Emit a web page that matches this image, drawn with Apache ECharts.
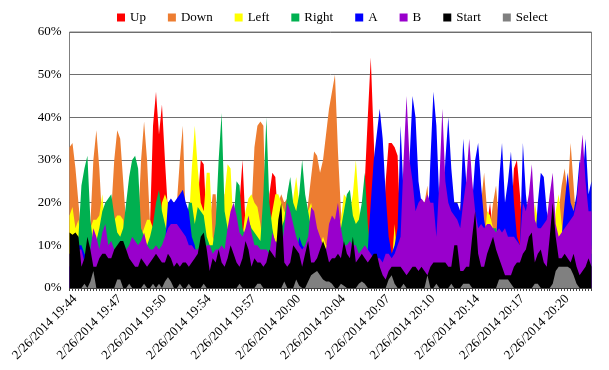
<!DOCTYPE html>
<html><head><meta charset="utf-8">
<script src="https://cdn.jsdelivr.net/npm/echarts@6/dist/echarts.min.js"></script>
<style>html,body{margin:0;padding:0;background:#fff}#c{width:609px;height:370px}</style>
</head><body><div id="c"></div>
<script>
const tickLabels = ['2/26/2014 19:44','2/26/2014 19:47','2/26/2014 19:50','2/26/2014 19:54','2/26/2014 19:57','2/26/2014 20:00','2/26/2014 20:04','2/26/2014 20:07','2/26/2014 20:10','2/26/2014 20:14','2/26/2014 20:17','2/26/2014 20:20'];
const labelEvery = 15;
const up = [5,5,4,3,3,4,5,5,6,5, 4,4,3,4,4,5,5,5,4,4, 3,4,4,4,4,5,6,15,38,46, 36,43,30,18,10,8,8,7,6,6, 5,5,6,20,30,29,15,10,8,6, 6,5,5,5,6,6,10,20,30,15, 10,8,7,7,6,6,6,22,27,26, 15,10,8,7,6,6,6,5,5,5, 5,5,6,6,6,6,6,6,6,7, 8,8,9,9,8,8,7,8,12,25, 40,54,35,15,10,12,25,34,34,33, 31,12,10,8,8,7,7,7,6,6, 6,6,6,5,5,5,5,5,5,5, 8,20,12,8,7,7,6,6,6,8, 15,20,12,8,7,7,7,8,15,28, 30,22,12,16,10,8,8,7,7,7, 7,6,6,6,6,6,6,6,6,6, 6,6,6,6,6,6];
const down = [33,34,28,20,12,10,8,15,30,37, 28,15,10,12,18,30,37,35,25,15, 10,9,10,15,30,39,30,15,12,10, 10,11,12,15,18,20,20,30,38,14, 10,9,8,10,10,11,12,15,22,22, 12,10,22,23,20,14,12,10,10,12, 14,18,33,38,39,38,12,10,10,21, 20,22,20,21,16,12,10,10,12,13, 20,26,32,31,27,30,36,42,46,50, 32,18,12,12,10,10,9,8,8,8, 7,7,6,6,5,5,5,5,5,5, 5,5,5,5,4,4,4,5,10,20, 24,12,8,7,6,6,6,6,6,6, 8,8,7,7,7,7,7,10,20,27, 18,14,20,24,15,10,8,8,8,8, 8,8,8,8,8,8,8,8,8,8, 8,8,8,12,18,24,28,22,34,24, 14,10,10,10,10,10];
const left = [17,19,14,16,10,14,12,14,16,16, 17,22,14,13,12,16,17,17,16,10, 8,8,9,10,12,14,16,16,14,12, 14,20,22,20,12,10,9,10,10,12, 15,28,38,28,20,18,27,27,12,10, 10,12,22,29,28,14,12,10,12,18, 21,22,20,19,15,10,12,14,18,22, 22,20,18,17,15,21,26,20,15,17, 18,20,16,12,10,12,10,10,10,12, 14,16,22,21,18,22,30,20,12,10, 10,10,9,8,7,6,5,5,5,15, 6,5,5,5,4,4,4,4,5,6, 6,5,5,5,5,5,5,5,5,5, 6,6,6,6,5,5,5,6,8,10, 18,17,14,10,8,7,7,7,6,6, 6,6,6,6,6,8,20,16,8,7, 7,7,10,18,22,15,10,10,10,10, 10,9,9,9,9,9];
const right = [8,8,10,12,24,28,31,16,10,11, 14,18,20,21,22,17,13,12,14,20, 26,30,31,28,14,12,10,12,15,20, 23,18,15,12,10,9,8,9,10,14, 20,20,15,19,18,17,12,10,10,15, 30,41,18,14,12,16,25,24,14,12, 16,14,13,12,11,22,40,20,14,10, 12,14,16,22,26,20,18,22,30,22, 18,14,12,10,10,10,9,9,9,10, 12,14,18,22,23,17,15,16,20,27, 15,8,7,6,6,5,5,5,5,6, 5,5,5,4,4,4,4,5,6,10, 18,10,6,5,5,5,5,5,5,5, 6,6,6,5,5,5,5,6,8,8, 10,12,14,14,10,8,7,7,6,6, 6,6,6,6,6,6,14,8,7,7, 6,6,6,8,10,9,8,8,8,8, 8,8,8,8,8,8];
const btnA = [5,6,8,10,10,8,7,6,5,6, 5,6,5,6,5,5,6,5,6,5, 6,5,5,5,6,5,5,5,5,5, 6,8,10,20,21,20,21,22,23,20, 18,12,10,6,6,5,5,5,6,8, 8,7,6,5,6,5,6,5,5,6, 6,5,5,5,5,5,6,5,6,5, 6,5,6,5,6,5,6,12,10,9, 8,6,6,5,5,5,5,5,6,6, 8,10,7,6,6,6,7,8,7,6, 9,20,30,36,42,35,22,12,8,10, 14,38,22,15,30,45,40,25,20,15, 12,30,46,38,20,15,30,40,28,20, 20,18,35,25,15,20,30,34,24,16, 12,10,10,10,25,34,20,25,32,20, 12,10,34,22,15,12,10,20,27,26, 18,15,12,10,10,12,20,27,20,18, 22,30,25,35,22,25];
const btnB = [8,8,9,9,9,6,10,9,14,12, 9,13,15,10,11,9,8,9,8,9, 10,12,11,10,11,13,10,9,9,10, 9,10,12,14,15,15,15,14,13,12, 10,10,9,9,10,9,10,10,8,9, 9,10,9,14,18,20,17,13,12,14, 17,13,10,10,9,9,9,8,13,11, 10,9,14,20,18,15,12,10,9,10, 12,19,18,14,12,10,9,15,17,16, 20,14,10,10,11,10,10,8,9,10, 9,8,7,7,7,6,8,8,7,8, 10,12,30,45,30,25,18,20,21,20, 22,20,20,12,25,42,25,20,18,17, 16,14,20,25,35,25,18,14,15,14, 15,15,14,13,14,13,14,12,12,12, 11,10,20,18,22,29,16,14,14,15, 16,22,27,15,12,13,14,15,16,17, 20,28,36,25,18,18];
const start = [13,12.5,13,12,5,7,12,9,5,5, 7,8,8,7,7,9,10,11,11,9, 7,6,5,5,7,6,5,6,7,8, 7,6,6,8,7,5,6,5,6,6, 5,6,7,8,12,13,9,4,7,6, 9,6,5,7,10,8,6,5,7,11, 9,5,7,6,6,5,6,9,8,7, 16,20,6,5,6,10,9,8,5,8, 11,6,6,7,9,11,9,6,7,7, 8,7,11,8,7,12,6,7,8,7, 6,7,8,8,5,3,2,4,5,5, 5,5,4,3,4,5,5,4,5,4, 3,5,6,6,6,6,6,5,5,10, 10,4,4,5,5,12,18,8,5,5, 8,10,12,9,7,5,3,3,3,5, 6,6,8,9,12,13,6,8,9,6, 5,12,20,12,7,7,8,7,6,8, 5,3,4,5,7,5];
const select = [0,0,0,0,0,1,0,1.5,4,0, 0,0,0,0,0,0,2,2,0,0, 1,0,0,0,0,1,0,0,1,0, 1,0,1.5,2.5,1.5,0,0,1,0,0, 1,0,0,0,0,1,0,0,0,0, 0,0,0,0,0,0,0,1,0,0, 0,0,0,1,1,0,0,0,0,0, 0,0,1.5,0,0,0,2,0.5,0,0, 1.5,3,3.5,4,3,2,1.5,1.5,1,0, 0,1,0.5,0,0,0,0,1,1.5,1, 0,0,0,0,0,0,0,2,3,1, 0,0,1,0,0,0,0,0,0,0, 3,0,0,1,0,0,0,0,1,0, 0,0,1,1,1,0,0,0,0,0, 0,0,0,0,2,2,2,2,1,0, 0,0,0,0,0,0,1,1,0,0, 0,0,1,4,5,5,5,5,4.5,3, 1,0,0,0,0,0];

const seriesNames = ['Up','Down','Left','Right','A','B','Start','Select'];
const seriesData = [up, down, left, right, btnA, btnB, start, select];
const colors = ['#FF0000','#ED7D31','#FFFF00','#00B050','#0000FF','#9900CC','#000000','#808080'];
const categories = up.map((_, i) => i);
const font = 'Liberation Serif';

const chart = echarts.init(document.getElementById('c'), null, {renderer: 'canvas'});
chart.setOption({
  animation: false,
  color: colors,
  textStyle: {fontFamily: font, color: '#000'},
  legend: {
    data: seriesNames, left: 117, top: 11, padding: 0,
    itemWidth: 8, itemHeight: 8, itemGap: 22, icon: 'rect',
    textStyle: {fontFamily: font, fontSize: 13, color: '#000'}
  },
  grid: [
    {left: 69.5, right: 17.5, top: 32, bottom: 82, show: true, borderColor: '#7f7f7f', borderWidth: 1},
    {left: 75, right: 12, top: 32, bottom: 82}
  ],
  xAxis: [{
    type: 'category', data: categories, boundaryGap: false, gridIndex: 0,
    axisLine: {lineStyle: {color: '#404040'}},
    axisTick: {interval: 0, length: 3, lineStyle: {color: '#404040'}},
    axisLabel: {show: false},
    splitLine: {show: false}
  }, {
    type: 'category', data: categories, boundaryGap: false, gridIndex: 1,
    axisLine: {show: false}, axisTick: {show: false}, splitLine: {show: false},
    axisLabel: {
      interval: labelEvery - 1, rotate: 45, fontFamily: font, fontSize: 13, color: '#000', margin: 9,
      formatter: (v, idx) => tickLabels[Math.round(idx / labelEvery)] || ''
    }
  }],
  yAxis: [{
    type: 'value', min: 0, max: 60, interval: 10, gridIndex: 0,
    axisLine: {show: false}, axisTick: {show: false},
    axisLabel: {formatter: '{value}%', fontFamily: font, fontSize: 13, color: '#000', margin: 8},
    splitLine: {lineStyle: {color: '#6e6e6e', width: 1}}
  }, {
    type: 'value', min: 0, max: 60, interval: 10, gridIndex: 1, show: false
  }],
  series: seriesNames.map((n, k) => ({
    name: n, type: 'line', data: seriesData[k], symbol: 'none', showSymbol: false,
    xAxisIndex: 0, yAxisIndex: 0,
    lineStyle: {width: 0}, areaStyle: {opacity: 1, color: colors[k]},
    itemStyle: {color: colors[k]}, emphasis: {disabled: true}
  }))
});
</script></body></html>
